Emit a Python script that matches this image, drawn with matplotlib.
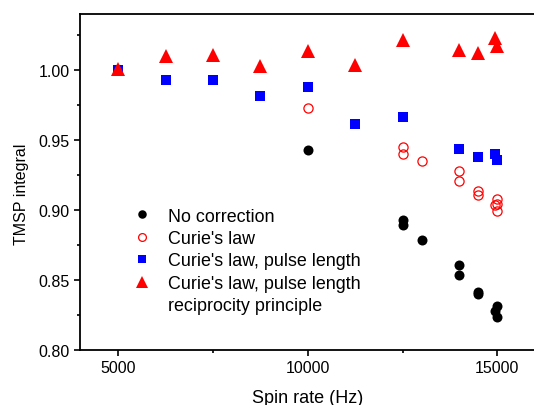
import matplotlib
matplotlib.use("Agg")
import matplotlib.pyplot as plt
from matplotlib.lines import Line2D
from matplotlib.ticker import FixedLocator, MultipleLocator, FormatStrFormatter

plt.rcParams['font.family'] = ['Liberation Sans', 'DejaVu Sans']

# Data
nc_x = [10000, 12500, 12500, 13000, 14000, 14000, 14500, 14500, 15000, 14950, 15000]
nc_y = [0.9427, 0.8930, 0.8892, 0.8787, 0.8606, 0.8535, 0.8417, 0.8398, 0.8314, 0.8280, 0.8233]

cl_x = [10000, 12500, 12500, 13000, 14000, 14000, 14500, 14500, 15000, 14950, 15000, 15000]
cl_y = [0.9724, 0.9446, 0.9398, 0.9351, 0.9275, 0.9203, 0.9132, 0.9104, 0.9077, 0.9038, 0.9045, 0.8994]

pl_x = [5000, 6250, 7500, 8750, 10000, 11250, 12500, 14000, 14500, 14950, 15000]
pl_y = [1.0000, 0.9926, 0.9929, 0.9810, 0.9874, 0.9612, 0.9660, 0.9436, 0.9375, 0.9398, 0.9353]

rp_x = [5000, 6250, 7500, 8750, 10000, 11250, 12500, 14000, 14500, 14950, 15000]
rp_y = [1.0005, 1.0100, 1.0107, 1.0029, 1.0136, 1.0036, 1.0214, 1.0143, 1.0119, 1.0224, 1.0171]

labels = ["No correction", "Curie's law", "Curie's law, pulse length",
          "Curie's law, pulse length", "reciprocity principle"]

xticks = [5000, 10000, 15000]
yticks = [0.80, 0.85, 0.90, 0.95, 1.00]

fig = plt.figure(figsize=(5.34, 4.06), dpi=100)
ax = fig.add_axes([80.3 / 534, 55 / 406, 455 / 534, (351 - 14.7) / 406])

h0, = ax.plot(nc_x, nc_y, 'o', color='black', markersize=7.2, markeredgewidth=0)
h1, = ax.plot(cl_x, cl_y, 'o', markerfacecolor='none', markeredgecolor='#ff0000',
              markersize=6.6, markeredgewidth=0.9)
h2, = ax.plot(pl_x, pl_y, 's', color='#0000ff', markersize=6.5, markeredgewidth=0)
h3, = ax.plot(rp_x, rp_y, '^', color='#ff0000', markersize=9.4, markeredgewidth=0)
blank = Line2D([], [], linestyle='none', marker=None)

ax.set_xlim(4000, 16000)
ax.set_ylim(0.80, 1.04)
ax.xaxis.set_major_locator(FixedLocator(xticks))
ax.xaxis.set_minor_locator(FixedLocator([7500, 12500]))
ax.yaxis.set_major_locator(FixedLocator(yticks))
ax.yaxis.set_minor_locator(MultipleLocator(0.025))
ax.yaxis.set_major_formatter(FormatStrFormatter('%.2f'))

ax.tick_params(which='both', direction='out', width=1.2, labelsize=11.5, top=False, right=False)
ax.tick_params(which='major', length=4.5, pad=3)
ax.tick_params(which='minor', length=2.5)
for s in ['left', 'bottom', 'top', 'right']:
    ax.spines[s].set_linewidth(1.3)

ax.set_xlabel("Spin rate (Hz)", fontsize=13, labelpad=10)
ax.set_ylabel("TMSP integral", fontsize=11.5)
ax.yaxis.set_label_coords(-0.113, 0.467)

leg = ax.legend([h0, h1, h2, h3, blank], labels,
                loc='upper left', bbox_to_anchor=(0.100, 0.4445), frameon=False, fontsize=12.9,
                markerscale=0.85, handlelength=1.0, handletextpad=0.95, labelspacing=0.30,
                borderaxespad=0)

fig.savefig("out.png", dpi=100)
